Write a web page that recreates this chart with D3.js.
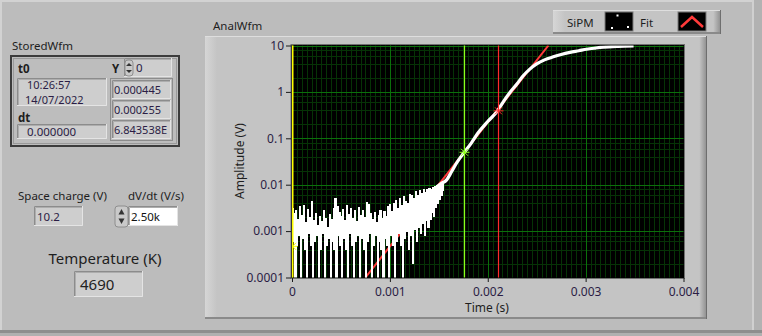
<!DOCTYPE html>
<html>
<head>
<meta charset="utf-8">
<script src="https://cdn.jsdelivr.net/npm/d3@7"></script>
<style>
  body { margin: 0; background: #bdbdbd; }
  svg text { font-family: "Noto Sans", "DejaVu Sans", sans-serif; }
</style>
</head>
<body>
<svg id="panel" width="762" height="336"></svg>
<script>
// ---- chart data ----
const xTicks = [0, 0.001, 0.002, 0.003, 0.004];
const xTickLabels = ["0", "0.001", "0.002", "0.003", "0.004"];
const yTicks = [0.0001, 0.001, 0.01, 0.1, 1, 10];
const yTickLabels = ["0.0001", "0.001", "0.01", "0.1", "1", "10"];

// SiPM baseline noise, one sample every noiseStep seconds from t = 0 (values <= 0 drop to the axis floor)
const noiseStep = 0.00001;
const noiseAmp = [
  0.0031, 0.0006, 0.0024, -0.0004, 0.0028, 0.0005, 0.0018, 0.0008, 0.0033, -0.0002,
  0.0022, 0.0007, 0.0036, 0.0004, 0.0015, -0.0006, 0.0029, 0.0009, 0.0020, 0.0005,
  0.0043, -0.0001, 0.0017, 0.0006, 0.0024, 0.0008, 0.0013, -0.0003, 0.0021, 0.0004,
  0.0016, 0.0009, 0.0027, -0.0005, 0.0019, 0.0005, 0.0012, 0.0007, 0.0023, -0.0002,
  0.0018, 0.0006, 0.0030, 0.0004, 0.0050, -0.0004, 0.0034, 0.0008, 0.0025, 0.0005,
  0.0021, -0.0006, 0.0029, 0.0007, 0.0017, 0.0004, 0.0035, -0.0001, 0.0023, 0.0009,
  0.0031, 0.0005, 0.0019, -0.0003, 0.0027, 0.0006, 0.0016, 0.0008, 0.0032, -0.0002,
  0.0022, 0.0007, 0.0028, 0.0004, 0.0020, -0.0005, 0.0041, 0.0006, 0.0038, 0.0009,
  0.0024, -0.0003, 0.0018, 0.0005, 0.0025, 0.0008, 0.0015, -0.0001, 0.0022, 0.0006,
  0.0027, 0.0004, 0.0019, -0.0004, 0.0026, 0.0007, 0.0021, 0.0005, 0.0034, -0.0002,
  0.0037, 0.0008, 0.0026, 0.0005, 0.0040, -0.0003, 0.0046, 0.0006, 0.0031, 0.0009,
  0.0049, 0.0005, 0.0036, -0.0001, 0.0055, 0.0007, 0.0044, 0.0010, 0.0039, 0.0004,
  0.0062, 0.0008, 0.0058, 0.0002, 0.0051, 0.0011, 0.0070, 0.0006, 0.0057, 0.0012,
  0.0074, 0.0009, 0.0063, 0.0015, 0.0077, 0.0008, 0.0068, 0.0017, 0.0080, 0.0012,
  0.0082, 0.0018, 0.0079, 0.0025, 0.0088, 0.0021, 0.0092, 0.0032, 0.0095, 0.0040,
  0.0101, 0.0048, 0.0108, 0.0060, 0.0112, 0.0072
];

// SiPM rising edge and saturation
const riseTime = [0.00148, 0.00152, 0.00158, 0.00163, 0.00168, 0.00176, 0.00183, 0.0019, 0.0020, 0.0021,
  0.00216, 0.00223, 0.0023, 0.00236, 0.00243, 0.0025, 0.00258, 0.00267, 0.00275, 0.00284,
  0.00293, 0.00301, 0.0031, 0.00318, 0.00333, 0.00349];
const riseAmp = [0.0090, 0.0105, 0.0127, 0.019, 0.029, 0.050, 0.078, 0.13, 0.23, 0.39,
  0.62, 1.0, 1.5, 2.2, 3.1, 4.0, 4.9, 5.7, 6.4, 7.1,
  7.7, 8.3, 8.8, 9.2, 9.6, 9.8];

// exponential fit (straight on the log axis)
const fitTime = [0.00075, 0.00262];
const fitAmp = [0.0001, 10];

// cursors
const cursorTime = [0, 0.00176, 0.0021];
const cursorAmp = [0.00047, 0.05, 0.39];
const cursorColor = ["#ffff00", "#8cff1a", "#ff2a2a"];

// front panel values
const storedT0 = ["10:26:57", "14/07/2022"];
const storedDt = "0.000000";
const storedIndex = "0";
const storedY = ["0.000445", "0.000255", "6.843538E"];
const spaceCharge = "10.2";
const dvdt = "2.50k";
const temperature = "4690";

// ---- drawing ----
const svg = d3.select("#panel");
const W = 762, H = 336;
const txt = "#1e1e1e", val = "#2b1d45";

svg.append("rect").attr("width", W).attr("height", H).attr("fill", "#bcbcbc");
// window edges
svg.append("rect").attr("x", 0).attr("y", 0).attr("width", W).attr("height", 2).attr("fill", "#d2d2d2");
svg.append("rect").attr("x", 0).attr("y", 0).attr("width", 2).attr("height", H).attr("fill", "#d2d2d2");
svg.append("rect").attr("x", 752).attr("y", 0).attr("width", 2).attr("height", 332).attr("fill", "#d0d0d0");
svg.append("rect").attr("x", 754).attr("y", 0).attr("width", 8).attr("height", H).attr("fill", "#b2b2b2");
svg.append("rect").attr("x", 0).attr("y", 330).attr("width", W).attr("height", 3).attr("fill", "#8e8e8e");
svg.append("rect").attr("x", 0).attr("y", 333).attr("width", W).attr("height", 3).attr("fill", "#b0b0b0");

const defs = svg.append("defs");
const rg = defs.append("linearGradient").attr("id", "raiseR").attr("x1", 0).attr("x2", 1);
rg.append("stop").attr("offset", "0").attr("stop-color", "#c6c6c6");
rg.append("stop").attr("offset", "1").attr("stop-color", "#8c8c8c");
const lg = defs.append("linearGradient").attr("id", "raiseL").attr("x1", 0).attr("x2", 1);
lg.append("stop").attr("offset", "0").attr("stop-color", "#d6d6d6");
lg.append("stop").attr("offset", "1").attr("stop-color", "#c4c4c4");

function raised(x, y, w, h) {
  svg.append("rect").attr("x", x).attr("y", y).attr("width", w).attr("height", h).attr("fill", "#c4c4c4");
  svg.append("rect").attr("x", x).attr("y", y).attr("width", 12).attr("height", h).attr("fill", "url(#raiseL)");
  svg.append("rect").attr("x", x + w - 8).attr("y", y).attr("width", 8).attr("height", h).attr("fill", "url(#raiseR)");
  svg.append("rect").attr("x", x).attr("y", y).attr("width", w).attr("height", 1).attr("fill", "#dedede");
  svg.append("rect").attr("x", x).attr("y", y + h - 2).attr("width", w).attr("height", 2).attr("fill", "#8a8a8a");
  svg.append("rect").attr("x", x + w - 1).attr("y", y).attr("width", 1).attr("height", h).attr("fill", "#6e6e6e");
}

function sunken(x, y, w, h, face) {
  svg.append("rect").attr("x", x).attr("y", y).attr("width", w).attr("height", h).attr("fill", face || "#cecece");
  svg.append("path").attr("d", `M${x + 0.5},${y + h}V${y + 0.5}H${x + w}`).attr("fill", "none").attr("stroke", "#8c8c8c");
  svg.append("path").attr("d", `M${x + 1.5},${y + h - 1}V${y + 1.5}H${x + w - 1}`).attr("fill", "none").attr("stroke", "#adadad");
  svg.append("path").attr("d", `M${x},${y + h - 0.5}H${x + w - 0.5}V${y}`).attr("fill", "none").attr("stroke", "#e4e4e4");
}

function label(x, y, s, opt) {
  opt = opt || {};
  return svg.append("text").attr("x", x).attr("y", y).text(s)
    .attr("font-size", opt.size || 11.5).attr("fill", opt.fill || txt)
    .attr("font-weight", opt.bold ? "bold" : null)
    .attr("text-anchor", opt.anchor || "start");
}

function spinner(x, y, w, h) {
  svg.append("rect").attr("x", x).attr("y", y).attr("width", w).attr("height", h)
    .attr("rx", 3).attr("fill", "#c9c9c9").attr("stroke", "#8e8e8e");
  const cx = x + w / 2;
  svg.append("path").attr("d", `M${cx - 3},${y + h / 2 - 2}L${cx},${y + 3}L${cx + 3},${y + h / 2 - 2}Z`).attr("fill", "#333");
  svg.append("path").attr("d", `M${cx - 3},${y + h / 2 + 2}L${cx},${y + h - 3}L${cx + 3},${y + h / 2 + 2}Z`).attr("fill", "#333");
}

// ---- StoredWfm cluster ----
label(12, 50, "StoredWfm");
svg.append("rect").attr("x", 11).attr("y", 56).attr("width", 168).attr("height", 90)
  .attr("fill", "#bdbdbd").attr("stroke", "#3c3c3c").attr("stroke-width", 2);
svg.append("rect").attr("x", 13.5).attr("y", 58.5).attr("width", 163).attr("height", 85)
  .attr("fill", "none").attr("stroke", "#9a9a9a");
label(18, 73, "t0", { bold: true });
sunken(17, 78, 90, 28);
label(27, 89, storedT0[0], { fill: val, size: 11 });
label(25, 103.5, storedT0[1], { fill: val, size: 11 });
label(18, 122, "dt", { bold: true });
sunken(17, 124, 90, 15);
label(27, 136, storedDt, { fill: val });
label(112, 73, "Y", { bold: true });
sunken(124, 58, 48, 19);
spinner(125, 60, 8, 16);
label(136, 72, storedIndex, { fill: val });
svg.append("rect").attr("x", 110.5).attr("y", 78.5).attr("width", 62).attr("height", 62)
  .attr("fill", "none").attr("stroke", "#8c8c8c");
storedY.forEach((s, i) => {
  sunken(112, 80 + i * 20, 59, 19);
  label(114, 94 + i * 20, s, { fill: val, size: 11 });
});

// ---- scalar controls ----
label(18, 200, "Space charge (V)");
sunken(34, 206, 49, 20);
label(37, 221, spaceCharge, { fill: val });
label(128, 200, "dV/dt (V/s)");
spinner(115, 206, 13, 21);
sunken(128, 206, 50, 20, "#ffffff");
label(131, 221, dvdt, { fill: "#111" });
label(105, 264, "Temperature (K)", { size: 15, anchor: "middle" });
sunken(74, 271, 69, 26);
label(80, 290, temperature, { size: 15, fill: "#222" });

// ---- graph frame and legend ----
label(213, 30, "AnalWfm");
raised(205, 36, 502, 283);
raised(553, 10, 168, 24);
label(567, 27, "SiPM");
svg.append("rect").attr("x", 605).attr("y", 12).attr("width", 28).attr("height", 19).attr("fill", "#000").attr("stroke", "#7a7a7a");
[[616.5, 14.5], [611, 27], [627, 26]].forEach(p =>
  svg.append("rect").attr("x", p[0]).attr("y", p[1]).attr("width", 2).attr("height", 2).attr("fill", "#fff"));
label(640, 27, "Fit");
svg.append("rect").attr("x", 678).attr("y", 12).attr("width", 28).attr("height", 19).attr("fill", "#000").attr("stroke", "#7a7a7a");
svg.append("path").attr("d", "M681,27L692,17L703,27").attr("fill", "none").attr("stroke", "#ff3a3a").attr("stroke-width", 2.5);

// ---- plot ----
const x = d3.scaleLinear().domain([0, 0.004]).range([292, 683.5]);
const y = d3.scaleLog().domain([0.0001, 10]).range([277.5, 45.5]);
const yFloor = 0.0001;

svg.append("rect").attr("x", 291).attr("y", 44.5).attr("width", 393.5).attr("height", 234)
  .attr("fill", "#000").attr("stroke", "#707070");
defs.append("clipPath").attr("id", "plotClip").append("rect")
  .attr("x", 292).attr("y", 45.5).attr("width", 391.5).attr("height", 232);
const plot = svg.append("g").attr("clip-path", "url(#plotClip)");

// grid: minor verticals every 50 µs, minor horizontals at 2,4,6,8 per decade
const minorX = d3.range(0, 0.004001, 0.00005);
plot.selectAll(".gxm").data(minorX).join("line")
  .attr("x1", d => Math.round(x(d)) + 0.5).attr("x2", d => Math.round(x(d)) + 0.5)
  .attr("y1", 45).attr("y2", 278).attr("stroke", "#063306").attr("stroke-width", 1);
const minorY = yTicks.slice(0, -1).flatMap(d => [2, 4, 6, 8].map(m => d * m));
plot.selectAll(".gym").data(minorY).join("line")
  .attr("y1", d => Math.round(y(d)) + 0.5).attr("y2", d => Math.round(y(d)) + 0.5)
  .attr("x1", 292).attr("x2", 684).attr("stroke", "#063306").attr("stroke-width", 1);
plot.selectAll(".gxM").data(xTicks).join("line")
  .attr("x1", d => Math.round(x(d)) + 0.5).attr("x2", d => Math.round(x(d)) + 0.5)
  .attr("y1", 45).attr("y2", 278).attr("stroke", "#0b700b").attr("stroke-width", 1);
plot.selectAll(".gyM").data(yTicks).join("line")
  .attr("y1", d => Math.round(y(d)) + 0.5).attr("y2", d => Math.round(y(d)) + 0.5)
  .attr("x1", 292).attr("x2", 684).attr("stroke", "#0b700b").attr("stroke-width", 1);

// fit line under the data
plot.append("path").datum(fitTime.map((t, i) => [t, fitAmp[i]]))
  .attr("d", d3.line().x(d => x(d[0])).y(d => y(d[1])))
  .attr("fill", "none").attr("stroke", "#ff3a3a").attr("stroke-width", 2);

// SiPM noise, drawn as a step trace so each sample becomes a vertical stroke
const noisePts = noiseAmp.map((v, i) => [i * noiseStep, Math.max(v, yFloor * 0.98)]);
plot.append("path").datum(noisePts)
  .attr("d", d3.line().curve(d3.curveStepAfter).x(d => x(d[0])).y(d => y(d[1])))
  .attr("fill", "none").attr("stroke", "#fff").attr("stroke-width", 1.2)
  .attr("shape-rendering", "crispEdges");
// SiPM edge
plot.append("path").datum(riseTime.map((t, i) => [t, riseAmp[i]]))
  .attr("d", d3.line().curve(d3.curveMonotoneX).x(d => x(d[0])).y(d => y(d[1])))
  .attr("fill", "none").attr("stroke", "#fff").attr("stroke-width", 3.2)
  .attr("stroke-linejoin", "round");

// cursors
cursorTime.forEach((t, i) => {
  const cx = Math.round(x(t)) + 0.5, cy = y(cursorAmp[i]);
  plot.append("line").attr("x1", cx).attr("x2", cx).attr("y1", 45).attr("y2", 278)
    .attr("stroke", cursorColor[i]).attr("stroke-width", i === 0 ? 2 : 1.2);
  const g = plot.append("g").attr("stroke", cursorColor[i]).attr("stroke-width", 1);
  g.append("line").attr("x1", cx - 3.5).attr("x2", cx + 3.5).attr("y1", cy - 3.5).attr("y2", cy + 3.5);
  g.append("line").attr("x1", cx - 3.5).attr("x2", cx + 3.5).attr("y1", cy + 3.5).attr("y2", cy - 3.5);
  g.append("line").attr("x1", cx - 5).attr("x2", cx + 5).attr("y1", cy).attr("y2", cy);
});

// axes
const xAxis = svg.append("g").attr("transform", "translate(0,278)")
  .call(d3.axisBottom(x).tickValues(xTicks).tickFormat((d, i) => xTickLabels[i]).tickSize(4).tickPadding(5));
const yAxis = svg.append("g").attr("transform", "translate(291,0)")
  .call(d3.axisLeft(y).tickValues(yTicks).tickFormat((d, i) => yTickLabels[i]).tickSize(5).tickPadding(2));
[xAxis, yAxis].forEach(a => {
  a.select(".domain").remove();
  a.selectAll("line").attr("stroke", "#1a1a1a");
  a.selectAll("text").attr("font-size", 12).attr("fill", val)
    .attr("font-family", "'Noto Sans', 'DejaVu Sans', sans-serif");
});
label(487, 312, "Time (s)", { anchor: "middle", size: 12 });
svg.append("text").attr("transform", "translate(244,161) rotate(-90)")
  .attr("text-anchor", "middle").attr("font-size", 12).attr("fill", txt).text("Amplitude (V)");
</script>
</body>
</html>
